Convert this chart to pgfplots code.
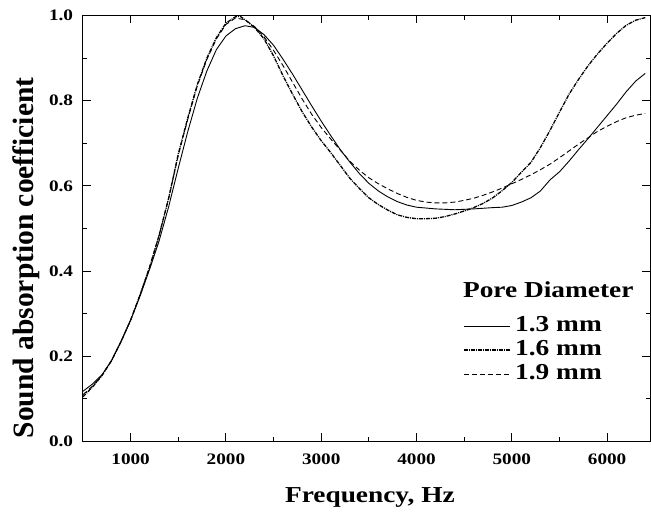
\documentclass[border=0pt]{standalone}
\usepackage{fontspec}
\setmainfont{Liberation Serif}[FakeStretch=1.2]
\newfontfamily\ylabfont{Liberation Serif}
\usepackage{pgfplots}
\pgfplotsset{compat=1.18}
\usepackage{pgfplotstable}

\pgfplotstableread{
f a
500 0.118
600 0.135
700 0.157
800 0.190
900 0.235
1000 0.285
1100 0.342
1200 0.405
1300 0.472
1400 0.552
1500 0.642
1600 0.728
1700 0.806
1800 0.870
1900 0.920
2000 0.952
2100 0.969
2200 0.976
2300 0.972
2400 0.955
2500 0.930
2600 0.897
2700 0.862
2800 0.825
2900 0.788
3000 0.752
3100 0.718
3200 0.685
3300 0.656
3400 0.629
3500 0.606
3600 0.588
3700 0.574
3800 0.563
3900 0.555
4000 0.550
4200 0.546
4400 0.544
4600 0.546
4800 0.549
4900 0.550
5000 0.554
5100 0.562
5200 0.572
5300 0.588
5400 0.614
5500 0.633
5600 0.658
5700 0.685
5800 0.711
5900 0.738
6000 0.765
6100 0.792
6200 0.821
6300 0.846
6400 0.864
}\dataA

\pgfplotstableread{
f a
500 0.105
600 0.128
700 0.155
800 0.190
900 0.235
1000 0.285
1100 0.345
1200 0.410
1300 0.485
1400 0.572
1500 0.675
1600 0.760
1700 0.838
1800 0.900
1900 0.948
2000 0.982
2100 0.997
2150 0.998
2200 0.990
2300 0.972
2400 0.945
2500 0.905
2600 0.858
2700 0.815
2800 0.774
2900 0.738
3000 0.706
3100 0.678
3200 0.648
3300 0.618
3400 0.594
3500 0.572
3600 0.556
3700 0.543
3800 0.532
3900 0.526
4000 0.523
4100 0.523
4200 0.524
4300 0.528
4400 0.534
4500 0.541
4600 0.549
4700 0.559
4800 0.572
4900 0.589
5000 0.608
5100 0.632
5200 0.655
5300 0.690
5400 0.730
5500 0.773
5600 0.815
5700 0.850
5800 0.882
5900 0.910
6000 0.935
6100 0.958
6200 0.977
6300 0.989
6400 0.995
}\dataB

\pgfplotstableread{
f a
500 0.110
600 0.130
700 0.156
800 0.190
900 0.235
1000 0.285
1100 0.345
1200 0.410
1300 0.485
1400 0.572
1500 0.672
1600 0.757
1700 0.835
1800 0.897
1900 0.945
2000 0.979
2100 0.994
2200 0.990
2300 0.974
2400 0.950
2500 0.918
2600 0.882
2700 0.843
2800 0.804
2900 0.768
3000 0.737
3100 0.710
3200 0.684
3300 0.658
3400 0.637
3500 0.619
3600 0.605
3700 0.593
3800 0.582
3900 0.573
4000 0.566
4100 0.562
4200 0.560
4300 0.560
4400 0.562
4500 0.566
4600 0.571
4700 0.578
4800 0.586
4900 0.595
5000 0.605
5100 0.615
5200 0.626
5300 0.638
5400 0.651
5500 0.666
5600 0.682
5700 0.698
5800 0.713
5900 0.728
6000 0.740
6100 0.751
6200 0.760
6300 0.766
6400 0.770
}\dataC

\begin{document}
\begin{tikzpicture}
\begin{axis}[
  at={(0pt,0pt)}, anchor=south west,
  scale only axis, width=567pt, height=426pt,
  xmin=500, xmax=6450, ymin=0, ymax=1,
  xtick={1000,2000,...,6000}, minor x tick num=1,
  ytick={0,0.2,...,1.0}, minor y tick num=1,
  tick align=inside, tick pos=both,
  major tick length=8pt, minor tick length=4.5pt,
  every tick/.style={black, line width=1pt},
  axis line style={line width=1pt},
  /pgf/number format/assume math mode=true,
  /pgf/number format/1000 sep={},
  xticklabel={\pgfmathprintnumber[assume math mode=true,1000 sep={}]{\tick}},
  yticklabel={\pgfmathprintnumber[assume math mode=true,fixed,fixed zerofill,precision=1]{\tick}},
  every tick label/.append style={font=\fontsize{16}{18}\selectfont\bfseries, inner sep=0pt},
  xticklabel style={yshift=-12.3pt},
  yticklabel style={xshift=-9.7pt},
  xlabel={Frequency, Hz},
  xlabel style={at={(axis description cs:0.506,0)}, anchor=base, yshift=-61.3pt, font=\fontsize{22.8}{26}\selectfont\bfseries},
  ylabel={\ylabfont Sound absorption coefficient},
  ylabel style={at={(axis description cs:-0.0877,0.431)}, anchor=base, font=\fontsize{29.5}{32}\selectfont\bfseries},
  legend style={draw=none, fill=none, at={(rel axis cs:0.670,0.2934)}, anchor=north west, inner sep=0pt, outer sep=0pt, row sep=5pt, column sep=5pt,
    font=\fontsize{22.8}{24}\selectfont\bfseries, nodes={inner sep=0pt, text height=15pt, text depth=4pt}},
  legend cell align=left,
  legend image code/.code={\draw[#1] (0pt,0pt) -- (46pt,0pt);},
]
\addplot[black, line width=0.9pt] table[x=f, y=a] {\dataA};
\addlegendentry{1.3 mm}
\addplot[black, line width=1.3pt, dash pattern=on 4pt off 1pt on 1pt off 1pt] table[x=f, y=a] {\dataB};
\addlegendentry{1.6 mm}
\addplot[black, line width=0.9pt, dash pattern=on 5pt off 3pt] table[x=f, y=a] {\dataC};
\addlegendentry{1.9 mm}
\node[anchor=base west, inner sep=0pt, font=\fontsize{22.8}{24}\selectfont\bfseries] at (rel axis cs:0.670,0.339) {Pore Diameter};
\end{axis}
\pgfresetboundingbox
\path (-83pt,-71.3pt) rectangle (568pt,441.5pt);
\end{tikzpicture}
\end{document}
